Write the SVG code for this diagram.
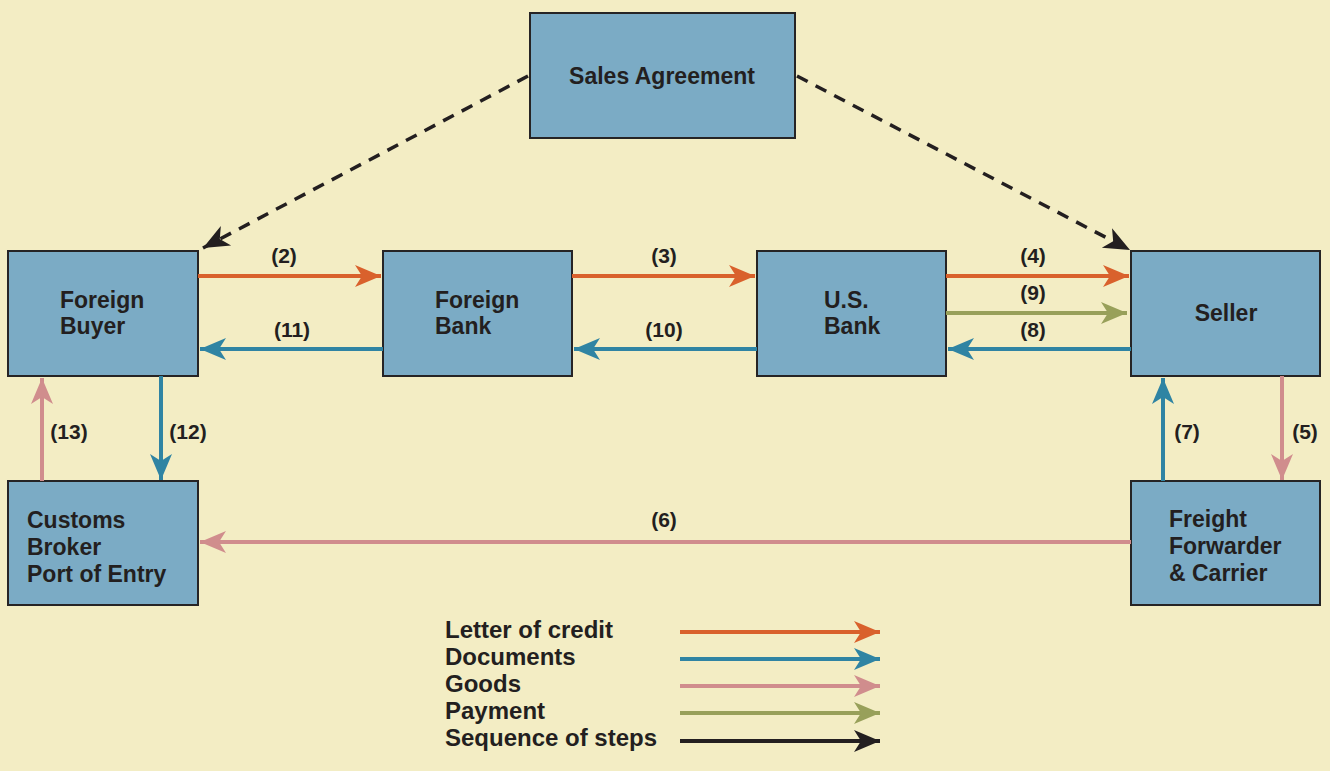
<svg xmlns="http://www.w3.org/2000/svg" width="1330" height="771" viewBox="0 0 1330 771">
<style>
.bg{fill:#F3EDC4}
.box{fill:#7BABC5;stroke:#262425;stroke-width:2}
.t{font-family:"Liberation Sans",Arial,sans-serif;font-weight:bold;font-size:23px;fill:#231F20}
.lg{font-size:24px}
.lbl{font-family:"Liberation Sans",Arial,sans-serif;font-weight:bold;font-size:21px;fill:#231F20;text-anchor:middle}
.c{fill:none;stroke-width:4}
.or{stroke:#D9612C}
.bl{stroke:#2F84A3}
.pk{stroke:#D08D8D}
.gr{stroke:#98A05A}
.bk{stroke:#231F20}
.dash{fill:none;stroke:#231F20;stroke-width:3.5;stroke-dasharray:12 9}
</style>
<defs>
<marker id="aOr" markerUnits="userSpaceOnUse" markerWidth="30" markerHeight="26" viewBox="-26 -13 30 26" refX="0" refY="0" orient="auto"><path d="M-26,-11 L0,0 L-26,11 L-19,0 Z" fill="#D9612C"/></marker>
<marker id="aBl" markerUnits="userSpaceOnUse" markerWidth="30" markerHeight="26" viewBox="-26 -13 30 26" refX="0" refY="0" orient="auto"><path d="M-26,-11 L0,0 L-26,11 L-19,0 Z" fill="#2F84A3"/></marker>
<marker id="aPk" markerUnits="userSpaceOnUse" markerWidth="30" markerHeight="26" viewBox="-26 -13 30 26" refX="0" refY="0" orient="auto"><path d="M-26,-11 L0,0 L-26,11 L-19,0 Z" fill="#D08D8D"/></marker>
<marker id="aGr" markerUnits="userSpaceOnUse" markerWidth="30" markerHeight="26" viewBox="-26 -13 30 26" refX="0" refY="0" orient="auto"><path d="M-26,-11 L0,0 L-26,11 L-19,0 Z" fill="#98A05A"/></marker>
<marker id="aBk" markerUnits="userSpaceOnUse" markerWidth="30" markerHeight="26" viewBox="-26 -13 30 26" refX="0" refY="0" orient="auto"><path d="M-26,-11 L0,0 L-26,11 L-19,0 Z" fill="#231F20"/></marker>
</defs>
<rect class="bg" x="0" y="0" width="1330" height="771"/>

<g id="sales-agreement"><rect class="box" x="530" y="13" width="265" height="125"/><text class="t" x="662" y="84" text-anchor="middle">Sales Agreement</text></g>
<g id="foreign-buyer"><rect class="box" x="8" y="251" width="190" height="125"/><text class="t" x="60" y="308">Foreign</text><text class="t" x="60" y="334">Buyer</text></g>
<g id="foreign-bank"><rect class="box" x="383" y="251" width="189" height="125"/><text class="t" x="435" y="308">Foreign</text><text class="t" x="435" y="334">Bank</text></g>
<g id="us-bank"><rect class="box" x="757" y="251" width="189" height="125"/><text class="t" x="824" y="308">U.S.</text><text class="t" x="824" y="334">Bank</text></g>
<g id="seller"><rect class="box" x="1131" y="251" width="189" height="125"/><text class="t" x="1226" y="321" text-anchor="middle">Seller</text></g>
<g id="customs-broker"><rect class="box" x="8" y="481" width="190" height="124"/><text class="t" x="27" y="528">Customs</text><text class="t" x="27" y="555">Broker</text><text class="t" x="27" y="582">Port of Entry</text></g>
<g id="freight-forwarder"><rect class="box" x="1131" y="481" width="189" height="124"/><text class="t" x="1169" y="527">Freight</text><text class="t" x="1169" y="554">Forwarder</text><text class="t" x="1169" y="581">&amp; Carrier</text></g>

<g id="connectors">
<path class="dash" d="M528,76 L203,248" marker-end="url(#aBk)"/>
<path class="dash" d="M797,76 L1130,250" marker-end="url(#aBk)"/>
<path class="c or" d="M198,276 L381,276" marker-end="url(#aOr)"/>
<path class="c bl" d="M383,349 L200,349" marker-end="url(#aBl)"/>
<path class="c or" d="M572,276 L755,276" marker-end="url(#aOr)"/>
<path class="c bl" d="M757,349 L574,349" marker-end="url(#aBl)"/>
<path class="c or" d="M946,276 L1129,276" marker-end="url(#aOr)"/>
<path class="c gr" d="M946,313 L1127,313" marker-end="url(#aGr)"/>
<path class="c bl" d="M1131,349 L948,349" marker-end="url(#aBl)"/>
<path class="c bl" d="M161,376 L161,480" marker-end="url(#aBl)"/>
<path class="c pk" d="M42,481 L42,378" marker-end="url(#aPk)"/>
<path class="c bl" d="M1163,481 L1163,378" marker-end="url(#aBl)"/>
<path class="c pk" d="M1282,376 L1282,480" marker-end="url(#aPk)"/>
<path class="c pk" d="M1131,542 L200,542" marker-end="url(#aPk)"/>
<text class="lbl" x="284" y="263">(2)</text>
<text class="lbl" x="292" y="337">(11)</text>
<text class="lbl" x="664" y="263">(3)</text>
<text class="lbl" x="664" y="337">(10)</text>
<text class="lbl" x="1033" y="263">(4)</text>
<text class="lbl" x="1033" y="300">(9)</text>
<text class="lbl" x="1033" y="337">(8)</text>
<text class="lbl" x="188" y="439">(12)</text>
<text class="lbl" x="69" y="439">(13)</text>
<text class="lbl" x="1187" y="439">(7)</text>
<text class="lbl" x="1305" y="439">(5)</text>
<text class="lbl" x="664" y="527">(6)</text>
</g>

<g id="legend">
<text class="t lg" x="445" y="638">Letter of credit</text>
<text class="t lg" x="445" y="665">Documents</text>
<text class="t lg" x="445" y="692">Goods</text>
<text class="t lg" x="445" y="719">Payment</text>
<text class="t lg" x="445" y="746">Sequence of steps</text>
<path class="c or" d="M680,632 L880,632" marker-end="url(#aOr)"/>
<path class="c bl" d="M680,659 L880,659" marker-end="url(#aBl)"/>
<path class="c pk" d="M680,686 L880,686" marker-end="url(#aPk)"/>
<path class="c gr" d="M680,713 L880,713" marker-end="url(#aGr)"/>
<path class="c bk" d="M680,741 L880,741" marker-end="url(#aBk)"/>
</g>
</svg>
